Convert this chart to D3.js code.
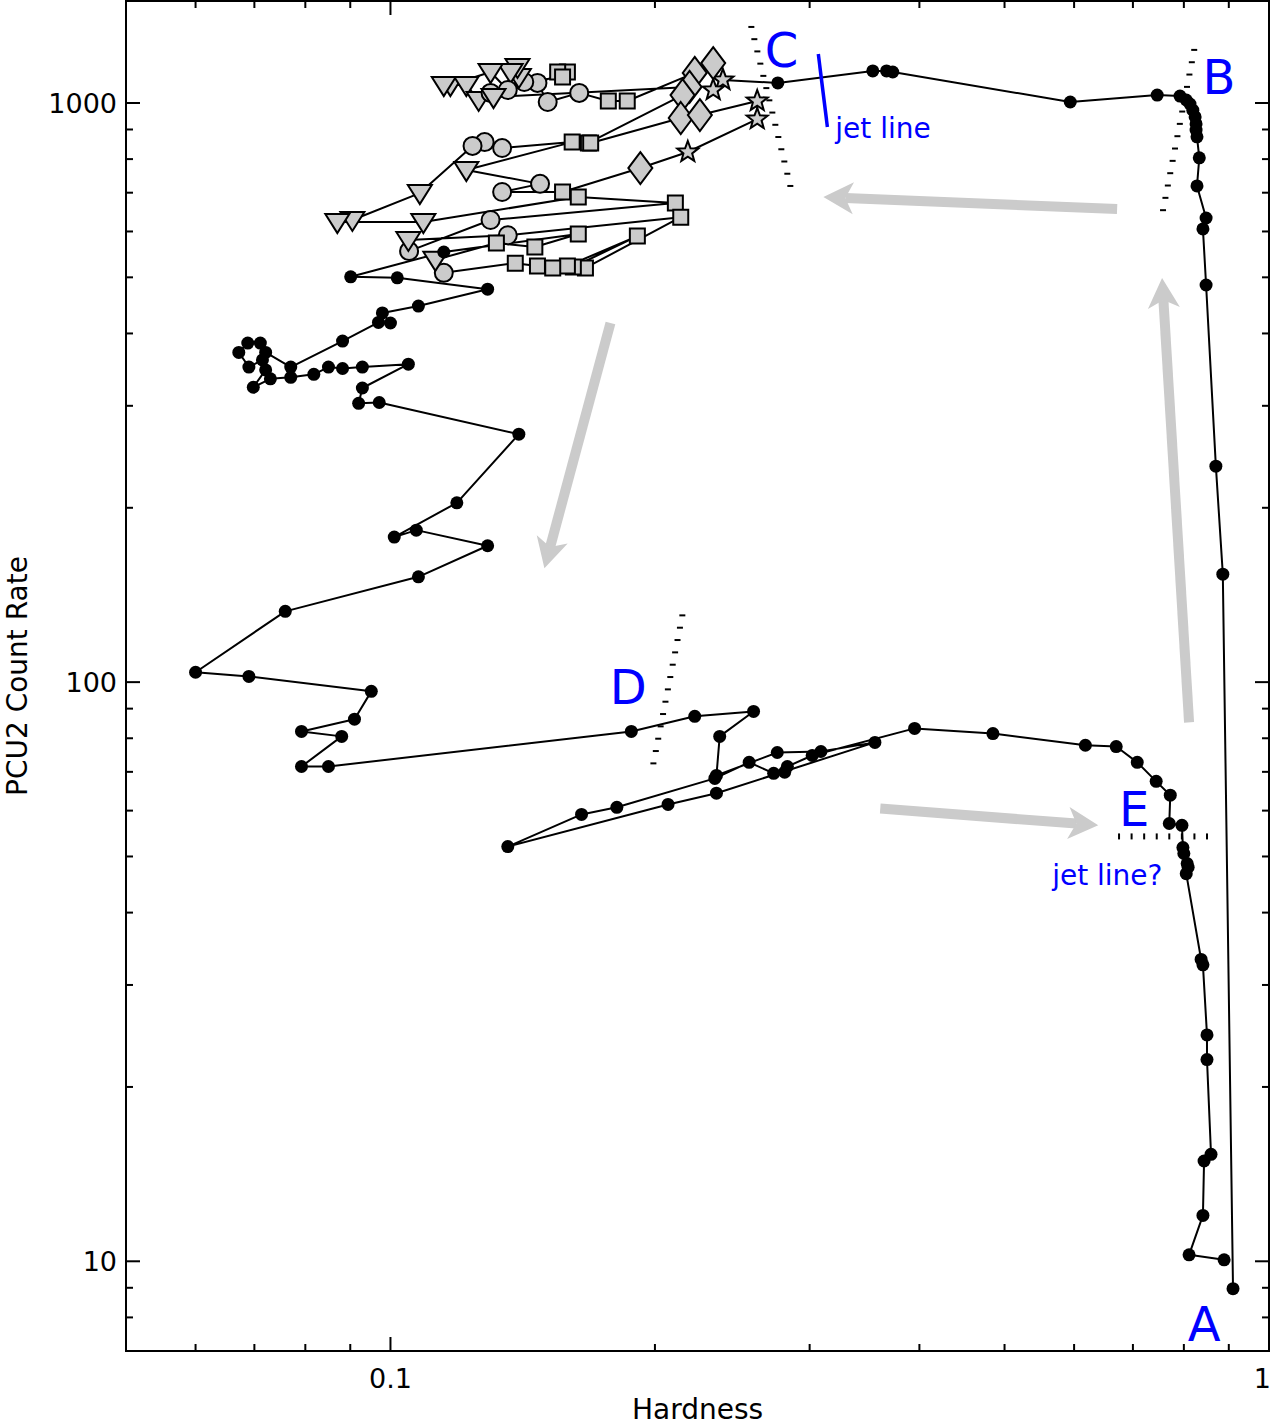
<!DOCTYPE html>
<html><head><meta charset="utf-8">
<script src="https://cdn.jsdelivr.net/npm/d3@7"></script>
<style>body{margin:0;background:#fff}svg{display:block}</style>
</head><body><svg id="c" width="1272" height="1427"></svg>
<script>
// ---- data (time ordered track) ----
// state: d = black dot, c = circle, s = square, t = triangle (down), k = diamond, r = star
const hardness = [
 0.910,0.886,0.870,0.848,0.841,0.848,0.828,0.833,0.828,0.826,0.826,0.824,0.819,0.813,0.805,0.792,0.746,0.594,0.373,0.367,0.354,0.276,
 0.239,0.233,0.233,0.222,0.186,0.177,0.164,0.151,0.147,0.159,0.155,0.157,0.142,0.140,0.1395,0.137,0.136,0.130,0.117,0.115,0.122,0.126,0.130,0.131,
 0.219,0.215,0.168,0.169,0.214,0.225,0.2615,0.2615,0.218,0.1925,0.157,0.134,0.148,0.122,0.161,0.134,0.128,0.124,0.108,0.0905,0.087,0.109,0.1636,
 0.211,0.130,0.105,0.1048,0.136,0.214,0.1667,0.1615,0.191,0.159,0.153,0.147,0.1387,0.115,0.1125,0.132,0.146,0.1636,
 0.115,0.0901,0.1018,0.129,0.1076,0.0979,0.100,0.0969,0.0882,0.077,0.0721,0.0711,0.0688,0.0672,0.069,0.0715,0.0721,0.0698,0.073,0.077,0.0818,0.085,0.0882,0.0929,0.1048,
 0.0929,0.092,0.0971,0.140,0.119,0.101,0.107,0.129,0.1076,0.0759,0.060,0.069,0.0951,0.091,0.0792,0.088,0.0792,0.085,
 0.188,0.222,0.259,0.237,0.235,0.2756,0.309,0.356,0.235,0.207,0.136,0.165,0.181,0.234,0.256,0.273,0.281,0.283,0.302,0.395,
 0.485,0.618,0.670,0.708,0.744,0.772,0.770,0.796,0.798,0.800,0.807,0.809,0.805,0.837,0.841,0.850,0.850,0.859,0.8435,0.841,0.811,0.889
];
const countRate = [
 8.97,153.6,236,485,606,633,719,804,874,898,920,946,972,996,1012,1028,1032,1004,1131,1136,1136,1083,
 1096,1053,1172,1127,1008,1008,1041,1004,1083,1131,1131,1109,1087,1109,1154,1131,1053,1131,1074,1074,1074,1012,1041,1024,
 1066,1032,853,853,942,953,1008,938,823,772,702,702,725,766,856,836,856,843,699,628,623,623,688,
 672,628,555,580,591,635,519,521,589,523,519,523,529,509,536,573,564,594,
 553,501,499,477,446,434,417,418,388,350,371,385,385,371,350,360,346,323,334,336,340,350,348,350,354,
 322,303,304,268,204,178,183,172,152,132.5,104,102.3,96.4,86.3,82.2,80.6,71.5,71.5,
 82.2,87.3,89.0,80.6,69.0,75.6,75.9,78.7,64.3,61.5,52.0,59.1,60.8,68.2,72.7,69.6,69.9,71.5,74.7,83.2,
 81.5,77.8,77.4,72.7,67.4,63.8,57.0,56.6,51.8,50.6,48.6,47.9,46.7,33.2,32.5,24.6,22.3,15.3,14.9,12.0,10.26,10.06
];
const state = [
 'd','d','d','d','d','d','d','d','d','d','d','d','d','d','d','d','d','d','d','d','d','d',
 'r','r','k','k','s','s','c','c','c','s','s','s','c','t','t','t','c','t','t','t','t','t','c','t',
 'k','k','s','s','k','k','r','r','r','k','s','c','c','t','s','c','c','c','t','t','t','t','s',
 's','c','c','t','c','s','s','s','s','s','s','s','s','c','t','s','s','s',
 'd','d','d','d','d','d','d','d','d','d','d','d','d','d','d','d','d','d','d','d','d','d','d','d','d',
 'd','d','d','d','d','d','d','d','d','d','d','d','d','d','d','d','d','d',
 'd','d','d','d','d','d','d','d','d','d','d','d','d','d','d','d','d','d','d','d',
 'd','d','d','d','d','d','d','d','d','d','d','d','d','d','d','d','d','d','d','d','d','d'
];

// axis settings
const xDomain = [0.05, 1];
const yDomain = [7, 1500];
const xMajor = [0.1, 1];
const yMajor = [10, 100, 1000];
const xLabel = "Hardness";
const yLabel = "PCU2 Count Rate";

// annotations (data coordinates)
const letterLabels = [
 {t:"C", h:0.2786, r:1154}, {t:"B", h:0.877, r:1036}, {t:"A", h:0.8435, r:7.29},
 {t:"D", h:0.1865, r:91.5}, {t:"E", h:0.7022, r:56.4}
];
const textLabels = [ {t:"jet line", h:0.3209, r:870}, {t:"jet line?", h:0.5665, r:44.7} ];
const jetLine = [[0.3069,1215],[0.3143,909]];
const dottedGuides = [
 {h0:0.2575, r0:1353, h1:0.2852, r1:719, n:14},
 {h0:0.822, r0:1235, h1:0.7575, r1:653, n:14},
 {h0:0.2149, r0:130.4, h1:0.1992, r1:72.4, n:13}
];
const eGuide = {h0:0.675, h1:0.850, r:54.15, n:8};
const arrows = [
 [[0.6716,656],[0.3110,688]],
 [[0.8110,85.2],[0.7556,498.6]],
 [[0.1780,417],[0.1497,157.2]],
 [[0.3610,60.5],[0.6392,56.6]]
];

// ---- drawing ----
const svg = d3.select("#c");
const X = d3.scaleLog().domain(xDomain).range([126,1269]);
const Y = d3.scaleLog().domain(yDomain).range([1351,1]);
const FONT = "DejaVu Sans, sans-serif";
const GREY = "#cbcbcb";
const BLUE = "#0000ff";

// arrows
arrows.forEach(([a,b])=>{
  const x0=X(a[0]), y0=Y(a[1]), x1=X(b[0]), y1=Y(b[1]);
  const dx=x1-x0, dy=y1-y0, L=Math.hypot(dx,dy), ux=dx/L, uy=dy/L, px=-uy, py=ux;
  const hl=30, hw=16, notch=22;
  svg.append("line").attr("x1",x0).attr("y1",y0)
    .attr("x2",x1-ux*notch).attr("y2",y1-uy*notch)
    .attr("stroke",GREY).attr("stroke-width",10);
  const bx=x1-ux*hl, by=y1-uy*hl;
  svg.append("path").attr("fill",GREY)
    .attr("d",`M${x1},${y1}L${bx+px*hw},${by+py*hw}L${x1-ux*notch},${y1-uy*notch}L${bx-px*hw},${by-py*hw}Z`);
});

// dotted guides (short horizontal dashes)
dottedGuides.forEach(g=>{
  const x0=X(g.h0), y0=Y(g.r0), x1=X(g.h1), y1=Y(g.r1);
  d3.range(g.n).forEach(i=>{
    const f=i/(g.n-1), x=x0+(x1-x0)*f, y=y0+(y1-y0)*f;
    svg.append("line").attr("x1",x-3).attr("x2",x+3).attr("y1",y).attr("y2",y)
      .attr("stroke","#000").attr("stroke-width",2);
  });
});
{
  const x0=X(eGuide.h0), x1=X(eGuide.h1), y=Y(eGuide.r);
  d3.range(eGuide.n).forEach(i=>{
    const x=x0+(x1-x0)*i/(eGuide.n-1);
    svg.append("line").attr("x1",x).attr("x2",x).attr("y1",y-3).attr("y2",y+3)
      .attr("stroke","#000").attr("stroke-width",2);
  });
}

// track line
const pts = hardness.map((h,i)=>[X(h),Y(countRate[i])]);
svg.append("path").attr("d",d3.line()(pts)).attr("fill","none")
  .attr("stroke","#000").attr("stroke-width",2).attr("stroke-linejoin","round");

// markers
function starPath(R,r){
  let p="";
  for(let i=0;i<10;i++){
    const a=-Math.PI/2+i*Math.PI/5, rr=i%2?r:R;
    p+=(i?"L":"M")+(rr*Math.cos(a)).toFixed(2)+","+(rr*Math.sin(a)).toFixed(2);
  }
  return p+"Z";
}
const shapes = {
  t:"M-12,-8L12,-8L0,11Z",
  k:"M0,-16L12,0L0,16L-12,0Z",
  s:"M-7.5,-7.5H7.5V7.5H-7.5Z",
  r:starPath(11,4.6)
};
hardness.forEach((h,i)=>{
  const x=X(h), y=Y(countRate[i]), t=state[i];
  if(t==='d'){
    svg.append("circle").attr("cx",x).attr("cy",y).attr("r",6.5).attr("fill","#000");
  } else if(t==='c'){
    svg.append("circle").attr("cx",x).attr("cy",y).attr("r",9)
      .attr("fill",GREY).attr("stroke","#000").attr("stroke-width",2);
  } else {
    svg.append("path").attr("d",shapes[t]).attr("transform",`translate(${x},${y})`)
      .attr("fill",GREY).attr("stroke","#000").attr("stroke-width",2).attr("stroke-linejoin","miter");
  }
});

// blue jet line
svg.append("line").attr("x1",X(jetLine[0][0])).attr("y1",Y(jetLine[0][1]))
  .attr("x2",X(jetLine[1][0])).attr("y2",Y(jetLine[1][1]))
  .attr("stroke",BLUE).attr("stroke-width",3.5);

// labels
letterLabels.forEach(l=>{
  svg.append("text").attr("x",X(l.h)).attr("y",Y(l.r)).attr("text-anchor","middle")
    .attr("font-family",FONT).attr("font-size",48).attr("fill",BLUE).text(l.t);
});
textLabels.forEach(l=>{
  svg.append("text").attr("x",X(l.h)).attr("y",Y(l.r))
    .attr("font-family",FONT).attr("font-size",28).attr("fill",BLUE).text(l.t);
});

// frame
const [xl,xr]=X.range(), [yb,yt]=Y.range();
svg.append("rect").attr("x",xl).attr("y",yt).attr("width",xr-xl).attr("height",yb-yt)
  .attr("fill","none").attr("stroke","#000").attr("stroke-width",2);

// ticks
const xt = X.ticks().filter(v=>v>xDomain[0]*1.001 && v<xDomain[1]*0.999);
const yt2 = Y.ticks().filter(v=>v>yDomain[0]*1.001 && v<yDomain[1]);
const isMajor=(arr,v)=>arr.some(m=>Math.abs(m-v)/m<1e-6);
xt.forEach(v=>{
  const len=isMajor(xMajor,v)?14:7, x=X(v);
  svg.append("line").attr("x1",x).attr("x2",x).attr("y1",yb).attr("y2",yb-len).attr("stroke","#000").attr("stroke-width",2);
  svg.append("line").attr("x1",x).attr("x2",x).attr("y1",yt).attr("y2",yt+len).attr("stroke","#000").attr("stroke-width",2);
});
yt2.forEach(v=>{
  const len=isMajor(yMajor,v)?14:7, y=Y(v);
  svg.append("line").attr("y1",y).attr("y2",y).attr("x1",xl).attr("x2",xl+len).attr("stroke","#000").attr("stroke-width",2);
  svg.append("line").attr("y1",y).attr("y2",y).attr("x1",xr).attr("x2",xr-len).attr("stroke","#000").attr("stroke-width",2);
});
// tick labels
const fmt = v => v<1 ? String(v) : d3.format("d")(v);
xMajor.forEach(v=>{
  const atEdge = X(v) > 1250;
  svg.append("text").attr("x",atEdge?1271:X(v)).attr("y",1388).attr("text-anchor",atEdge?"end":"middle")
    .attr("font-family",FONT).attr("font-size",27).attr("fill","#000").text(fmt(v));
});
yMajor.forEach(v=>{
  svg.append("text").attr("x",117).attr("y",Y(v)).attr("dy","0.36em").attr("text-anchor","end")
    .attr("font-family",FONT).attr("font-size",27).attr("fill","#000").text(fmt(v));
});
// axis titles
svg.append("text").attr("x",(xl+xr)/2).attr("y",1419).attr("text-anchor","middle")
  .attr("font-family",FONT).attr("font-size",28).attr("fill","#000").text(xLabel);
svg.append("text").attr("transform",`translate(27,${(yb+yt)/2}) rotate(-90)`).attr("text-anchor","middle")
  .attr("font-family",FONT).attr("font-size",28).attr("fill","#000").text(yLabel);
</script>
</body></html>
